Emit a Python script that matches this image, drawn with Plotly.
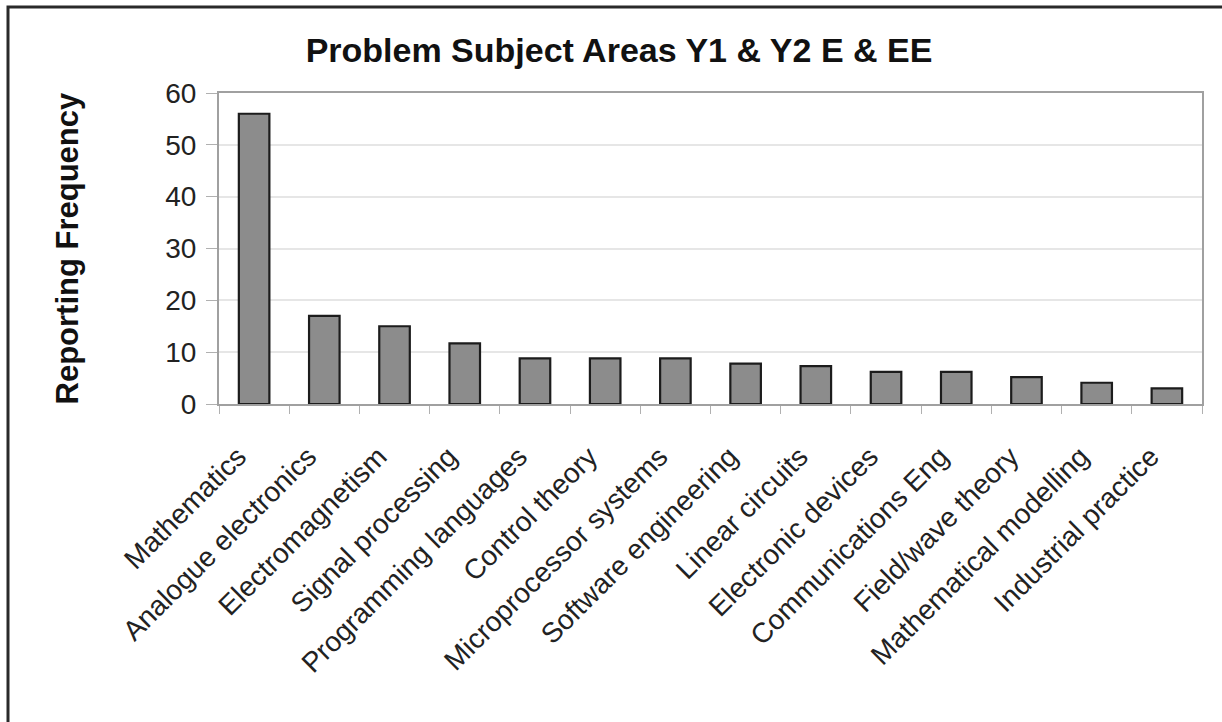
import plotly.graph_objects as go

# Subject areas reported as problematic, and how often each was reported
subjects = [
    "Mathematics", "Analogue electronics", "Electromagnetism", "Signal processing",
    "Programming languages", "Control theory", "Microprocessor systems",
    "Software engineering", "Linear circuits", "Electronic devices",
    "Communications Eng", "Field/wave theory", "Mathematical modelling",
    "Industrial practice",
]
frequency = [56, 17, 15, 11.7, 8.8, 8.8, 8.8, 7.8, 7.3, 6.2, 6.2, 5.2, 4.1, 3.0]

y_ticks = [0, 10, 20, 30, 40, 50, 60]

W, H = 1222, 722
L, R, T, B = 219, 20, 93, 318
pw, ph = W - L - R, H - T - B

FONT = "Liberation Sans, Arial, sans-serif"

fig = go.Figure(
    go.Bar(
        x=subjects,
        y=frequency,
        width=0.435,
        marker=dict(color="#8c8c8c", line=dict(color="#1c1c1c", width=2.2)),
    )
)

fig.update_layout(
    width=W,
    height=H,
    margin=dict(l=L, r=R, t=T, b=B, autoexpand=False),
    paper_bgcolor="white",
    plot_bgcolor="white",
    showlegend=False,
    font=dict(family=FONT, color="#1a1a1a"),
    title=dict(
        text="<b>Problem Subject Areas Y1 &amp; Y2 E &amp; EE</b>",
        xref="container", yref="container",
        x=619 / W, y=1 - 50 / H,
        xanchor="center", yanchor="middle",
        font=dict(size=34, family=FONT, color="#111"),
    ),
)

fig.update_xaxes(
    type="category",
    tickangle=-45,
    tickfont=dict(size=28, family=FONT, color="#222"),
    showline=True, linecolor="#a0a0a0", linewidth=2, mirror=True,
    ticks="outside", tickson="boundaries", ticklen=8, tickcolor="#b0b0b0", tickwidth=1,
    ticklabelstandoff=23, ticklabelshift=-16,
    showgrid=False,
)

fig.update_yaxes(
    range=[0, 60],
    tickvals=y_ticks,
    tickfont=dict(size=28, family=FONT, color="#222"),
    showline=True, linecolor="#a0a0a0", linewidth=2, mirror=True,
    ticks="outside", ticklen=11, tickcolor="#b0b0b0", tickwidth=1,
    ticklabelstandoff=4,
    showgrid=True, gridcolor="#e6e6e6", gridwidth=1.5,
    zeroline=False,
)

# Y-axis title
fig.add_annotation(
    text="<b>Reporting Frequency</b>",
    xref="paper", yref="paper",
    x=(67 - L) / pw, y=0.5,
    xanchor="center", yanchor="middle",
    textangle=-90, showarrow=False,
    font=dict(size=31, family=FONT, color="#111"),
)

# Chart frame (left and top edges visible; right/bottom run off the page)
fig.add_shape(
    type="rect", xref="paper", yref="paper",
    x0=(8 - L) / pw, x1=(W + 40 - L) / pw,
    y0=-(B + 40) / ph, y1=1 + (T - 7) / ph,
    line=dict(color="#2a2a2a", width=3),
    fillcolor="rgba(0,0,0,0)",
    layer="above",
)

fig.write_html("out.html")
